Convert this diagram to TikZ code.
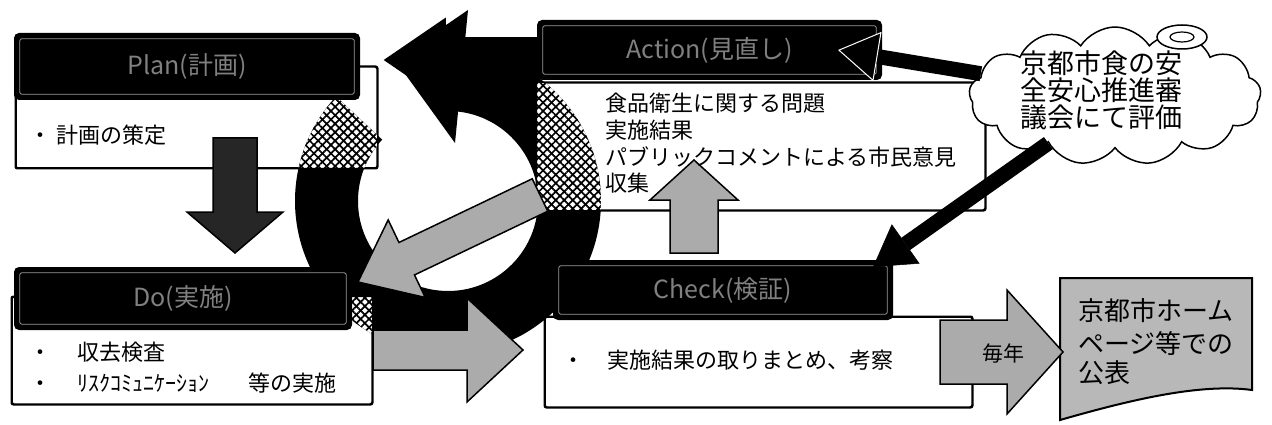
\documentclass[tikz,border=0pt]{standalone}
\usepackage{fontspec}
\setmainfont{Noto Sans CJK JP}
\usetikzlibrary{calc,shapes.symbols,arrows.meta,patterns.meta}
% block arrow: style, tail, tip, shaft half width, head half width, head length
\newcommand\blockarrow[6]{%
  \coordinate (#3-b) at ($(#3)!#6!(#2)$);
  \path[#1] ($(#2)!#4!90:(#3)$) -- ($(#3-b)!#4!90:(#3)$) -- ($(#3-b)!#5!90:(#3)$) -- (#3)
     -- ($(#3-b)!#5!-90:(#3)$) -- ($(#3-b)!#4!-90:(#3)$) -- ($(#2)!#4!-90:(#3)$) -- cycle;}
\def\ringpath{(ringc) ++(223:153) arc[start angle=223,end angle=-85,radius=153] -- ($(ringc)+(-85:90)$) arc[start angle=-85,end angle=223,radius=90] -- cycle}
\begin{document}
\begin{tikzpicture}[x=1pt,y=-1pt,
  body/.style={draw=black,line width=1.5pt,fill=white,rounded corners=2pt,inner sep=0},
  hdr/.style={fill=black,rounded corners=5pt,inner sep=0,text=black!50,font=\fontsize{25}{25}\selectfont},
  hdrline/.style={draw=black!40,line width=0.8pt,rounded corners=2pt},
  txt/.style={inner sep=0,font=\fontsize{22}{27}\selectfont,anchor=base west},
  bigtxt/.style={inner sep=0,font=\fontsize{27}{27}\selectfont,anchor=base west},
  doctxt/.style={inner sep=0,font=\fontsize{26}{26}\selectfont,anchor=base west},
  grey/.style={fill=black!33,draw=black,line width=1.5pt},
  dark/.style={fill=black!85,draw=black,line width=1.5pt},
  hatchA/.style={pattern={Lines[angle=45,distance=6pt,line width=1.7pt]}},
  hatchB/.style={pattern={Lines[angle=-45,distance=6pt,line width=1.7pt]}},
  cloudarr/.style={line width=15pt},
]
\fill[white] (0,0) rectangle (1272,425);
\useasboundingbox (0,0) rectangle (1272,425);

% ---- body boxes
\node[body,minimum width=361pt,minimum height=101pt] (planB) at (196.5,117.5) {};
\node[body,minimum width=360pt,minimum height=107pt] (doB) at (192,350.5) {};
\node[body,minimum width=448pt,minimum height=127pt] (actB) at (761,146.5) {};
\node[body,minimum width=427pt,minimum height=90pt] (chkB) at (758.5,362) {};

% ---- cycle ring
\coordinate (ringc) at (448,201);
\fill[black] \ringpath;
\fill[black] (468,10) -- (455,143) -- (395,60) -- cycle;
\foreach \b in {planB,doB,actB}{
  \begin{scope}
    \clip (\b.north west) rectangle (\b.south east);
    \fill[white] \ringpath;
    \fill[hatchA] \ringpath;
    \fill[hatchB] \ringpath;
  \end{scope}}
\foreach \b in {planB,doB,actB,chkB}
  \draw[line width=1.5pt,rounded corners=2pt] (\b.north west) rectangle (\b.south east);

% ---- headers
\node[hdr,minimum width=346pt,minimum height=67pt] (planH) at (187,66.5) {\raisebox{-5pt}{Plan(計画)}};
\node[hdr,minimum width=338pt,minimum height=63pt] (doH) at (183,298.5) {\raisebox{-2pt}{Do(実施)}};
\node[hdr,minimum width=345pt,minimum height=60pt] (actH) at (709.5,50) {\raisebox{-5pt}{Action(見直し)}};
\node[hdr,minimum width=340pt,minimum height=60pt] (chkH) at (723,290) {\raisebox{-5pt}{Check(検証)}};
\foreach \h in {planH,doH,actH,chkH}
  \draw[hdrline] ([shift={(6,6)}]\h.north west) rectangle ([shift={(-6,-6)}]\h.south east);

% ---- block arrows
\coordinate (pdTail) at (235,138);  \coordinate (pdTip) at (235,253);
\blockarrow{dark}{pdTail}{pdTip}{22pt}{48pt}{41pt}
\coordinate (topTail) at (537,60);  \coordinate (topTip) at (385,60);
\blockarrow{fill=black,draw=black,line width=1.5pt}{topTail}{topTip}{22pt}{41pt}{60pt}
\coordinate (adTail) at (540,195);  \coordinate (adTip) at (358,282);
\blockarrow{grey}{adTail}{adTip}{18pt}{43pt}{54pt}
\coordinate (dcTail) at (373,350);  \coordinate (dcTip) at (523,350);
\blockarrow{grey}{dcTail}{dcTip}{20pt}{52pt}{56pt}
\coordinate (caTail) at (694,253);  \coordinate (caTip) at (694,160);
\blockarrow{grey}{caTail}{caTip}{24pt}{44pt}{40pt}

% ---- publication document
\path[fill=black!28,draw=black,line width=2pt] (1060,278) -- (1252,278) -- (1252,390)
  .. controls (1200,383) and (1130,400) .. (1060,420) -- cycle;
\coordinate (yrTail) at (940,352);  \coordinate (yrTip) at (1063,352);
\blockarrow{grey}{yrTail}{yrTip}{32pt}{62pt}{56pt}

% ---- cloud
\node[cloud,draw,fill=white,line width=1.5pt,cloud puffs=13,cloud puff arc=115,aspect=2.1,
      minimum width=292pt,minimum height=138pt,inner sep=0] (cloud) at (1115,96) {};
\draw[line width=1.5pt,fill=white] (1182,37) ellipse [x radius=25, y radius=12];
\draw[line width=1.2pt] (1182,37) ellipse [x radius=12, y radius=5];
\coordinate (actIn) at (838,50);
\coordinate (chkIn) at (873,267);
\draw[cloudarr,-{Triangle[length=40pt,width=50pt,line width=1pt,fill=black,color=white]}] (cloud) -- (actIn);
\draw[cloudarr,-{Triangle[length=40pt,width=48pt,line width=0.5pt]}] (cloud) -- (chkIn);

% ---- texts
\node[txt] (planT) at (29,143.4) {・\hspace{5pt}計画の策定};
\node[txt] (doT1) at (29,360.4) {・\hspace{26pt}収去検査};
\node[txt] (doT2) at (29,391.4) {・\hspace{26pt}\makebox[153pt][l]{ﾘｽｸｺﾐｭﾆｹｰｼｮﾝ}\hspace{18pt}等の実施};
\node[txt] (actT1) at (605,111.4) {食品衛生に関する問題};
\node[txt] (actT2) at (605,138.4) {実施結果};
\node[txt] (actT3) at (605,165.4) {パブリックコメントによる市民意見};
\node[txt] (actT4) at (605,191.4) {収集};
\node[txt] (chkT) at (562,368.4) {・\hspace{23pt}実施結果の取りまとめ、考察};
\node[bigtxt] (clT1) at (1020,73.3) {京都市食の安};
\node[bigtxt] (clT2) at (1020,100.3) {全安心推進審};
\node[bigtxt] (clT3) at (1020,127.3) {議会にて評価};
\node[doctxt] (pubT1) at (1078,320) {京都市ホーム};
\node[doctxt] (pubT2) at (1078,353) {ページ等での};
\node[doctxt] (pubT3) at (1078,382) {公表};
\node[inner sep=0,font=\fontsize{21}{21}\selectfont,anchor=base west] (yrT) at (982,361) {毎年};
\end{tikzpicture}
\end{document}
